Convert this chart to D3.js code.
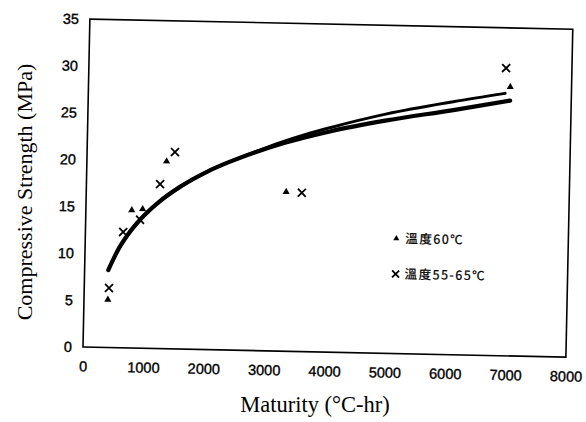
<!DOCTYPE html>
<html>
<head>
<meta charset="utf-8">
<script src="https://cdn.jsdelivr.net/npm/d3@7"></script>
<style>
  body { margin: 0; background: #fff; }
  svg { display: block; }
</style>
</head>
<body>
<script>
// measured data (maturity °C-hr, strength MPa)
var tri60 = [[395, 5.1], [760, 14.7], [940, 14.85], [1320, 20.0], [3310, 17.0], [6985, 28.7]];
var cross5565 = [[410, 6.35], [625, 12.35], [900, 13.7], [1220, 17.55], [1455, 21.0], [3570, 16.95], [6910, 30.7]];

// fitted curves
var fitLowerX = [392, 560, 700, 900, 1200, 1550, 2000, 2370, 2800, 3192, 3600, 4015, 4951, 6050, 6988];
var fitLowerY = [8.27, 10.6, 12.05, 13.7, 15.6, 17.3, 19.0, 20.1, 21.2, 22.08, 22.85, 23.55, 24.85, 26.1, 27.24];
var fitUpperX = [392, 560, 700, 900, 1200, 1550, 2000, 2370, 2800, 3192, 3600, 4014, 4949, 6048, 6902];
var fitUpperY = [8.27, 10.6, 12.05, 13.7, 15.6, 17.3, 19.0, 20.1, 21.25, 22.25, 23.15, 23.95, 25.55, 27.0, 28.0];

var xTicks = [0, 1000, 2000, 3000, 4000, 5000, 6000, 7000, 8000];
var yTicks = [0, 5, 10, 15, 20, 25, 30, 35];
var legendLabels = ["溫度60℃", "溫度55-65℃"];

var width = 586, height = 422;

var svg = d3.select("body").append("svg")
  .attr("width", width)
  .attr("height", height);

var x = d3.scaleLinear().domain([0, 8000]).range([83, 566]);
var y = d3.scaleLinear().domain([0, 35]).range([347, 19]);

// the scan is tilted a little
var plot = svg.append("g")
  .attr("transform", "rotate(1.2," + x(0) + "," + y(0) + ")");

plot.append("rect")
  .attr("x", x(0))
  .attr("y", y(35))
  .attr("width", x(8000) - x(0))
  .attr("height", y(0) - y(35))
  .attr("fill", "none")
  .attr("stroke", "#000")
  .attr("stroke-width", 1.6);

var xAxis = plot.append("g")
  .attr("transform", "translate(0," + y(0) + ")")
  .call(d3.axisBottom(x).tickValues(xTicks).tickFormat(d3.format("d")).tickSize(0).tickPadding(14));
var yAxis = plot.append("g")
  .attr("transform", "translate(" + x(0) + ",0)")
  .call(d3.axisLeft(y).tickValues(yTicks).tickFormat(d3.format("d")).tickSize(0).tickPadding(11));

plot.selectAll(".domain").remove();
plot.selectAll(".tick text")
  .attr("font-family", "Liberation Sans, Arial, sans-serif")
  .attr("font-size", 14.5)
  .attr("fill", "#000")
  .attr("stroke", "#000")
  .attr("stroke-width", 0.35);

var line = d3.line()
  .x(function(d) { return x(d[0]); })
  .y(function(d) { return y(d[1]); })
  .curve(d3.curveMonotoneX);

var upper = fitUpperX.map(function(v, i) { return [v, fitUpperY[i]]; });
var lower = fitLowerX.map(function(v, i) { return [v, fitLowerY[i]]; });

plot.append("path")
  .attr("d", line(lower))
  .attr("fill", "none")
  .attr("stroke", "#000")
  .attr("stroke-width", 4.2)
  .attr("stroke-linecap", "round");
plot.append("path")
  .attr("d", line(upper))
  .attr("fill", "none")
  .attr("stroke", "#000")
  .attr("stroke-width", 3)
  .attr("stroke-linecap", "round");

var triangle = d3.symbol().type(d3.symbolTriangle).size(22);

plot.selectAll(".tri")
  .data(tri60)
  .enter().append("path")
  .attr("class", "tri")
  .attr("transform", function(d) { return "translate(" + x(d[0]) + "," + y(d[1]) + ")"; })
  .attr("d", triangle)
  .attr("fill", "#000");

function cross(sel, s) {
  sel.append("path")
    .attr("d", "M" + (-s) + "," + (-s) + "L" + s + "," + s + "M" + (-s) + "," + s + "L" + s + "," + (-s))
    .attr("stroke", "#000")
    .attr("stroke-width", 1.8)
    .attr("fill", "none");
}

plot.selectAll(".crs")
  .data(cross5565)
  .enter().append("g")
  .attr("class", "crs")
  .attr("transform", function(d) { return "translate(" + x(d[0]) + "," + y(d[1]) + ")"; })
  .call(cross, 4);

// legend
var legend = plot.append("g")
  .selectAll("g")
  .data(legendLabels)
  .enter().append("g")
  .attr("transform", function(d, i) { return "translate(394," + (232 + i * 35.5) + ")"; });

legend.filter(function(d, i) { return i == 0; })
  .append("path")
  .attr("d", d3.symbol().type(d3.symbolTriangle).size(16))
  .attr("fill", "#000");
legend.filter(function(d, i) { return i == 1; })
  .call(cross, 3.5);

legend.append("text")
  .attr("x", 9)
  .attr("dy", "0.35em")
  .attr("font-family", "Noto Sans CJK TC, sans-serif")
  .attr("font-size", 12.5)
  .attr("letter-spacing", 1.5)
  .attr("stroke", "#000")
  .attr("stroke-width", 0.25)
  .text(function(d) { return d; });

// axis titles
svg.append("text")
  .attr("x", 315)
  .attr("y", 412)
  .attr("text-anchor", "middle")
  .attr("font-family", "Liberation Serif, Times New Roman, serif")
  .attr("font-size", 22.5)
  .text("Maturity (°C-hr)");

svg.append("text")
  .attr("transform", "translate(32,192) rotate(-90)")
  .attr("text-anchor", "middle")
  .attr("font-family", "Liberation Serif, Times New Roman, serif")
  .attr("font-size", 22)
  .text("Compressive Strength (MPa)");
</script>
</body>
</html>
